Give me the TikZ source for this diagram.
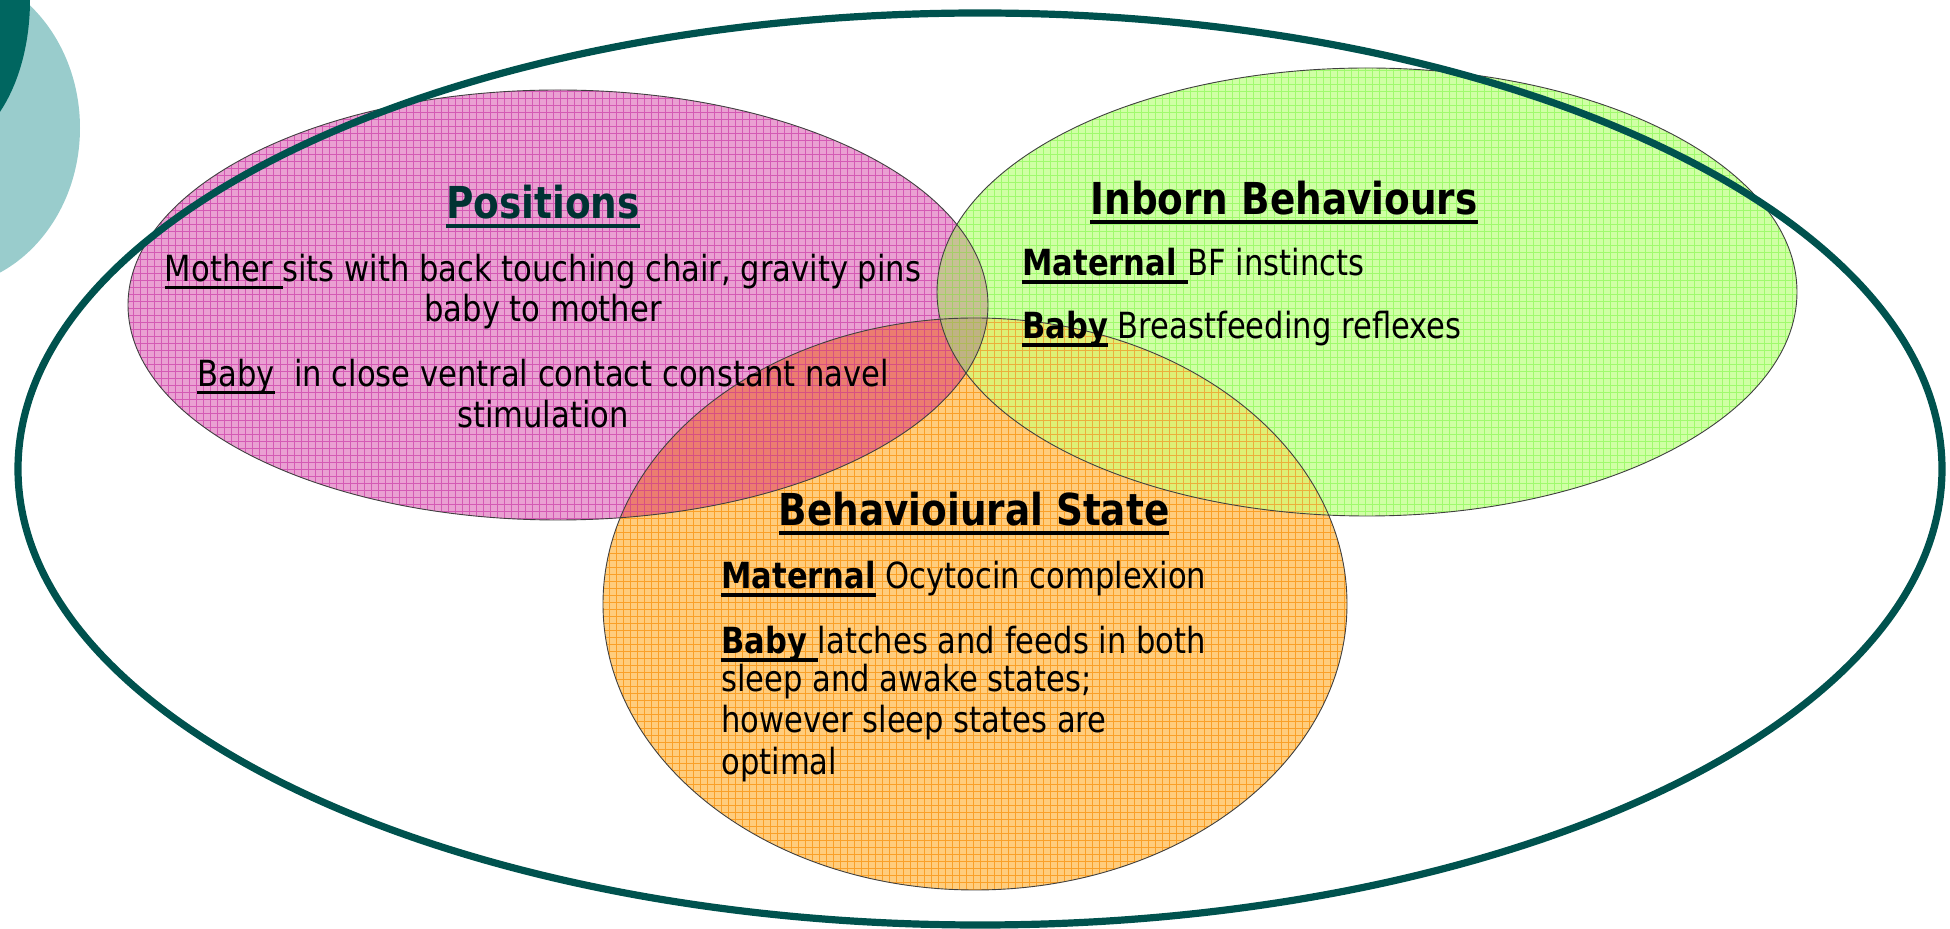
\documentclass[tikz,border=0pt]{standalone}
\usepackage{fontspec}
\setmainfont{DejaVu Sans}[FakeStretch=0.85]
\definecolor{tealLight}{RGB}{153,204,204}
\definecolor{tealDark}{RGB}{0,102,96}
\definecolor{outerLine}{RGB}{0,82,78}
\definecolor{titleTeal}{RGB}{0,51,51}
\definecolor{pinkF}{RGB}{234,160,210}
\definecolor{pinkG}{RGB}{212,90,180}
\definecolor{greenF}{RGB}{208,255,165}
\definecolor{greenG}{RGB}{160,250,110}
\definecolor{orangeF}{RGB}{255,205,125}
\definecolor{orangeG}{RGB}{250,160,40}
\definecolor{pgF}{RGB}{200,192,150}
\definecolor{pgG}{RGB}{165,205,105}
\definecolor{poF}{RGB}{236,125,112}
\definecolor{poG}{RGB}{215,80,130}
\definecolor{goF}{RGB}{222,240,118}
\definecolor{goG}{RGB}{235,175,60}
\definecolor{triF}{RGB}{192,178,132}
\definecolor{triG}{RGB}{175,185,90}
\newcommand\ulbox[3]{\leavevmode\setbox0=\hbox{#3}\rlap{\rule[-#2]{\wd0}{#1}}\box0\relax}
\newcommand\ttl[1]{\ulbox{2.2pt}{4.5pt}{\bfseries #1}}
\newcommand\ulr[1]{\ulbox{1.3pt}{3.4pt}{#1}}
\newcommand\ulb[1]{\ulbox{1.9pt}{3.8pt}{\bfseries #1}}
\def\pinkpath{(558,305) ellipse [x radius=430, y radius=215]}
\def\greenpath{(1367,292) ellipse [x radius=430, y radius=224]}
\def\orangepath{(975,604) ellipse [x radius=372, y radius=286]}
\tikzset{
  gridl/.style={line width=0.4pt, step=3.5pt},
  rim/.style={draw=black!75, line width=0.45pt},
  title/.style={anchor=base, inner sep=0pt, font=\fontsize{22}{26}\selectfont},
  body/.style={anchor=base, inner sep=0pt, font=\fontsize{18}{21}\selectfont},
  bodyl/.style={anchor=base west, inner sep=0pt, font=\fontsize{18}{21}\selectfont}
}
\begin{document}
\begin{tikzpicture}[x=0.5pt,y=-0.5pt]
\useasboundingbox (0,0) rectangle (1950,929);
\clip (0,0) rectangle (1950,929);
% corner decoration
\fill[tealLight] (-60,128) ellipse [x radius=140, y radius=160];
\fill[tealDark] (-60,0) ellipse [x radius=90, y radius=150];
% pink
\fill[pinkF] \pinkpath;
\begin{scope}\clip \pinkpath; \draw[pinkG, gridl] (120,80) grid (1000,530); \end{scope}
% green
\fill[greenF] \greenpath;
\begin{scope}\clip \greenpath; \draw[greenG, gridl] (930,60) grid (1810,530); \end{scope}
% orange
\fill[orangeF] \orangepath;
\begin{scope}\clip \orangepath; \draw[orangeG, gridl] (590,310) grid (1360,900); \end{scope}
% pink & green
\begin{scope}\clip \pinkpath; \fill[pgF] \greenpath; \clip \greenpath; \draw[pgG, gridl] (900,60) grid (1000,530); \end{scope}
% pink & orange
\begin{scope}\clip \pinkpath; \fill[poF] \orangepath; \clip \orangepath; \draw[poG, gridl] (590,300) grid (1000,530); \end{scope}
% green & orange
\begin{scope}\clip \greenpath; \fill[goF] \orangepath; \clip \orangepath; \draw[goG, gridl] (930,300) grid (1360,530); \end{scope}
% triple
\begin{scope}\clip \pinkpath; \clip \greenpath; \fill[triF] \orangepath; \clip \orangepath; \draw[triG, gridl] (930,300) grid (1000,530); \end{scope}
% rims
\path[rim] \pinkpath;
\path[rim] \greenpath;
\path[rim] \orangepath;
% outer ellipse
\draw[outerLine, line width=3.6pt] (980,469) ellipse [x radius=962, y radius=456];
% Positions
\node[title, text=titleTeal] (pt) at (543,219) {\ttl{Positions}};
\node[body] (p1) at (543,282) {\ulr{Mother }sits with back touching chair, gravity pins};
\node[body] (p2) at (543,322) {baby to mother};
\node[body] (p3) at (543,387) {\ulr{Baby}\ \ in close ventral contact constant navel};
\node[body] (p4) at (543,428) {stimulation};
% Inborn
\node[title] (it) at (1284,215) {\ttl{Inborn Behaviours}};
\node[bodyl] (i1) at (1022,276) {\ulb{Maternal }BF instincts};
\node[bodyl] (i2) at (1022,339) {\ulb{Baby} Breastfeeding reflexes};
% Behavioural state
\node[title] (bt) at (974,526) {\ttl{Behavioiural State}};
\node[bodyl] (b1) at (721,589) {\ulb{Maternal} Ocytocin complexion};
\node[bodyl] (b2) at (721,654) {\ulb{Baby }latches and feeds in both};
\node[bodyl] (b3) at (721,692) {sleep and awake states;};
\node[bodyl] (b4) at (721,733) {however sleep states are};
\node[bodyl] (b5) at (721,775) {optimal};
\end{tikzpicture}
\end{document}
